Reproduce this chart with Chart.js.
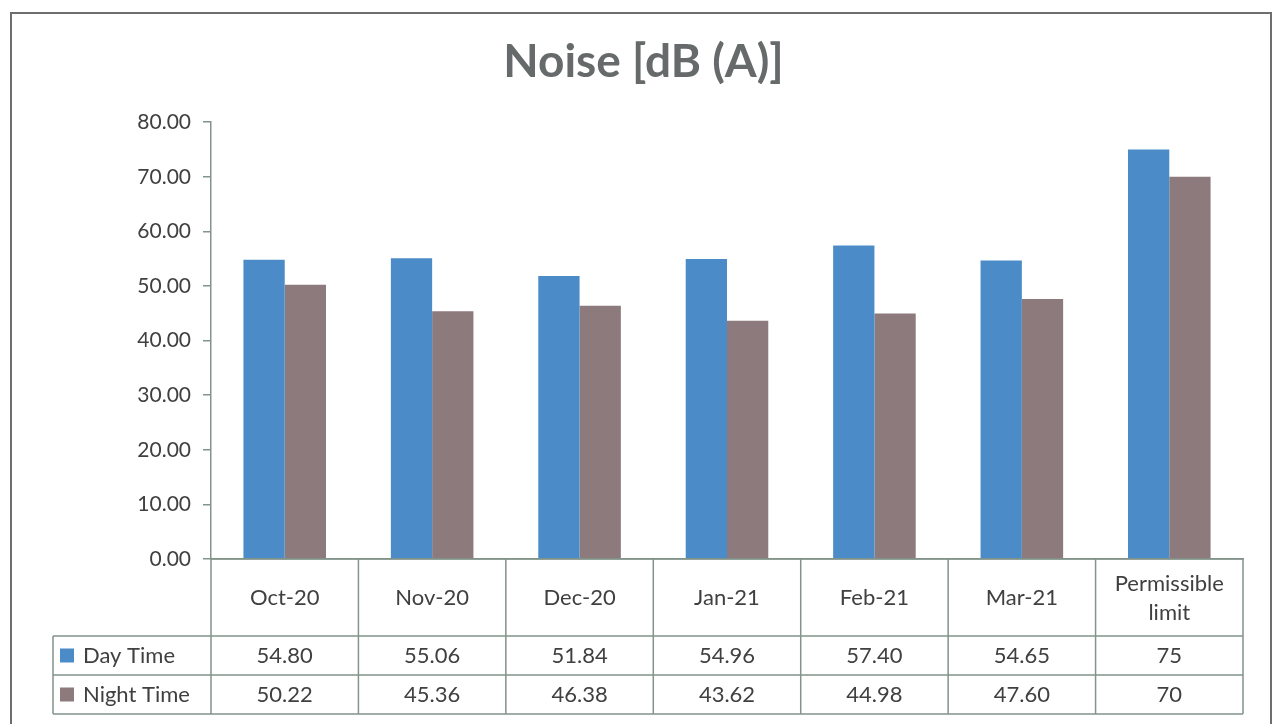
<!DOCTYPE html>
<html>
<head>
<meta charset="utf-8">
<script src="https://cdn.jsdelivr.net/npm/chart.js@4/dist/chart.umd.min.js"></script>
<style>
  html, body { margin: 0; padding: 0; background: #fff; }
  #wrap { position: relative; width: 1274px; height: 724px; overflow: hidden; }
  #frame { position: absolute; left: 10px; top: 12px; width: 1258px; height: 730px; border: 2px solid #6e6e6e; }
  canvas { position: absolute; left: 0; top: 0; }
</style>
</head>
<body>
<div id="wrap">
  <div id="frame"></div>
  <canvas id="noiseChart" width="1274" height="724"></canvas>
</div>
<script>
// chart data
const months = ['Oct-20', 'Nov-20', 'Dec-20', 'Jan-21', 'Feb-21', 'Mar-21', ['Permissible', 'limit']];
const dayTime = ['54.80', '55.06', '51.84', '54.96', '57.40', '54.65', '75'];
const nightTime = ['50.22', '45.36', '46.38', '43.62', '44.98', '47.60', '70'];
const seriesNames = ['Day Time', 'Night Time'];
const yTicks = [0, 10, 20, 30, 40, 50, 60, 70, 80];

const dayColor = '#4a8bc8';
const nightColor = '#8c7a7c';
const lineColor = '#83948a';
const textColor = '#404040';
const fontFam = 'Lato, "Open Sans", sans-serif';

// draws the data table under the axis
const dataTable = {
  id: 'dataTable',
  afterDraw(chart) {
    const ctx = chart.ctx;
    const x = chart.scales.x;
    const area = chart.chartArea;
    const n = months.length;
    const colW = (x.right - x.left) / n;
    const top = area.bottom;
    const headH = 77, rowH = 39;
    const row1 = top + headH, row2 = row1 + rowH, bottom = row2 + rowH;
    const labelLeft = 53;

    ctx.save();
    ctx.strokeStyle = lineColor;
    ctx.lineWidth = 1.5;
    ctx.beginPath();
    // header top + verticals
    ctx.moveTo(x.left, top); ctx.lineTo(x.right, top);
    for (let i = 0; i <= n; i++) {
      const px = x.left + i * colW;
      ctx.moveTo(px, top); ctx.lineTo(px, bottom);
    }
    // row lines
    ctx.moveTo(labelLeft, row1); ctx.lineTo(x.right, row1);
    ctx.moveTo(labelLeft, row2); ctx.lineTo(x.right, row2);
    ctx.moveTo(labelLeft, bottom); ctx.lineTo(x.right, bottom);
    ctx.moveTo(labelLeft, row1); ctx.lineTo(labelLeft, bottom);
    ctx.stroke();

    ctx.fillStyle = textColor;
    ctx.font = '22px ' + fontFam;
    ctx.textAlign = 'center';
    ctx.textBaseline = 'middle';
    months.forEach((m, i) => {
      const cx = x.getPixelForValue(i);
      if (Array.isArray(m)) {
        ctx.fillText(m[0], cx, top + headH / 2 - 14);
        ctx.fillText(m[1], cx, top + headH / 2 + 15);
      } else {
        ctx.fillText(m, cx, top + headH / 2);
      }
      ctx.fillText(dayTime[i], cx, row1 + rowH / 2);
      ctx.fillText(nightTime[i], cx, row2 + rowH / 2);
    });

    // legend keys in the row labels
    const rows = [row1, row2];
    const colors = [dayColor, nightColor];
    ctx.textAlign = 'left';
    seriesNames.forEach((s, k) => {
      const cy = rows[k] + rowH / 2;
      ctx.fillStyle = colors[k];
      ctx.fillRect(60, cy - 7, 14, 14);
      ctx.fillStyle = textColor;
      ctx.fillText(s, 83, cy);
    });
    ctx.restore();
  }
};

new Chart(document.getElementById('noiseChart'), {
  type: 'bar',
  data: {
    labels: months,
    datasets: [
      { label: seriesNames[0], data: dayTime.map(Number), backgroundColor: dayColor },
      { label: seriesNames[1], data: nightTime.map(Number), backgroundColor: nightColor }
    ]
  },
  options: {
    responsive: false,
    animation: false,
    layout: { padding: { left: 44, right: 31, top: 0, bottom: 0 } },
    datasets: { bar: { categoryPercentage: 0.56, barPercentage: 1 } },
    scales: {
      x: {
        ticks: { display: false },
        grid: { display: false },
        border: { display: true, color: lineColor, width: 1.5 },
        afterFit(scale) { scale.height = 165; }
      },
      y: {
        min: 0,
        max: 80,
        afterBuildTicks(scale) { scale.ticks = yTicks.map(v => ({ value: v })); },
        ticks: {
          color: textColor,
          font: { family: fontFam, size: 21 },
          padding: 12,
          callback: v => v.toFixed(2)
        },
        grid: { drawOnChartArea: false, tickLength: 8, color: lineColor, lineWidth: 1.5 },
        border: { display: true, color: lineColor, width: 1.5 },
        afterFit(scale) { scale.width = 167; }
      }
    },
    plugins: {
      legend: { display: false },
      tooltip: { enabled: false },
      title: {
        display: true,
        text: 'Noise [dB (A)]',
        color: '#666a6a',
        font: { family: fontFam, size: 46, weight: 'bold' },
        padding: { top: 35, bottom: 32 }
      }
    }
  },
  plugins: [dataTable]
});
</script>
</body>
</html>
